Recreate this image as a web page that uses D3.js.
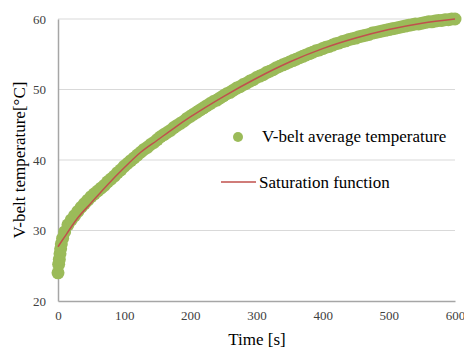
<!DOCTYPE html>
<html>
<head>
    <meta charset="utf-8" />
    <title>V-belt temperature</title>
    <style>
        body { margin: 0; background: #fff; }
        svg text { font-family: "Liberation Serif", "Times New Roman", Times, serif !important; }
    </style>
</head>
<body>
    <svg></svg>
    <script src="https://d3js.org/d3.v7.min.js"></script>
    <script>
        // Measured V-belt average temperature (time in s, temperature in degC)
        var measTime = [0, 1, 2, 3, 4, 5, 7, 10, 15, 20, 25, 30, 35, 40, 45, 50, 55, 60, 65, 70, 75, 80, 85, 90, 95,
            100, 105, 110, 115, 120, 125, 130, 135, 140, 145, 150, 155, 160, 165, 170, 175, 180, 185, 190, 195,
            200, 205, 210, 215, 220, 225, 230, 235, 240, 245, 250, 255, 260, 265, 270, 275, 280, 285, 290, 295,
            300, 305, 310, 315, 320, 325, 330, 335, 340, 345, 350, 355, 360, 365, 370, 375, 380, 385, 390, 395,
            400, 405, 410, 415, 420, 425, 430, 435, 440, 445, 450, 455, 460, 465, 470, 475, 480, 485, 490, 495,
            500, 505, 510, 515, 520, 525, 530, 535, 540, 545, 550, 555, 560, 565, 570, 575, 580, 585, 590, 595, 600];
        var measTemp = [24.0, 25.2, 25.9, 26.7, 27.4, 28.1, 28.9, 29.8, 30.8, 31.5, 32.1, 32.7, 33.3, 33.8, 34.3, 34.8, 35.2, 35.6, 36.0, 36.4, 36.9, 37.3, 37.7, 38.2, 38.6,
            39.1, 39.5, 39.9, 40.3, 40.7, 41.1, 41.5, 41.8, 42.2, 42.5, 42.9, 43.3, 43.6, 43.9, 44.2, 44.6, 44.9, 45.2, 45.5, 45.9,
            46.2, 46.5, 46.8, 47.1, 47.4, 47.7, 48.0, 48.3, 48.5, 48.8, 49.1, 49.4, 49.6, 49.9, 50.2, 50.4, 50.7, 50.9, 51.2, 51.4,
            51.7, 51.9, 52.1, 52.4, 52.6, 52.8, 53.1, 53.3, 53.5, 53.7, 53.9, 54.1, 54.3, 54.5, 54.7, 54.9, 55.1, 55.3, 55.5, 55.6,
            55.8, 56.0, 56.1, 56.3, 56.5, 56.6, 56.8, 56.9, 57.1, 57.2, 57.3, 57.5, 57.6, 57.7, 57.8, 58.0, 58.1, 58.2, 58.3, 58.4,
            58.5, 58.6, 58.7, 58.8, 58.9, 59.0, 59.1, 59.2, 59.3, 59.3, 59.4, 59.5, 59.6, 59.6, 59.7, 59.8, 59.8, 59.9, 59.9, 60.0, 60.0];

        // Saturation function (fitted curve)
        var fitTime = [0, 10, 20, 30, 50, 75, 100, 125, 150, 175, 200, 250, 300, 350, 400, 450, 500, 550, 600];
        var fitTemp = [27.7, 29.1, 30.5, 31.8, 33.9, 36.5, 38.9, 41.1, 42.8, 44.5, 46.1, 49.0, 51.6, 53.9, 55.8, 57.3, 58.5, 59.4, 60.0];

        var xTicks = [0, 100, 200, 300, 400, 500, 600];
        var yTicks = [20, 30, 40, 50, 60];
        var seriesNames = ["V-belt average temperature", "Saturation function"];

        var width = 464, height = 349;
        var svg = d3.select("svg").attr("width", width).attr("height", height);

        var x = d3.scaleLinear().domain([0, 600]).range([58, 455]);
        var y = d3.scaleLinear().domain([20, 60]).range([301, 19]);

        var green = "#9bbb59", red = "#c0504d";

        // gridlines
        svg.append("g")
            .selectAll("line")
            .data(yTicks.slice(1))
            .join("line")
            .attr("x1", x(0)).attr("x2", x(600))
            .attr("y1", d => y(d)).attr("y2", d => y(d))
            .attr("stroke", "#d9d9d9").attr("stroke-width", 1);

        // axes
        var xAxis = svg.append("g")
            .attr("transform", "translate(0," + y(20) + ")")
            .call(d3.axisBottom(x).tickValues(xTicks).tickSize(0).tickPadding(10));
        var yAxis = svg.append("g")
            .attr("transform", "translate(" + x(0) + ",0)")
            .call(d3.axisLeft(y).tickValues(yTicks).tickSize(0).tickPadding(12));
        [xAxis, yAxis].forEach(function (g) {
            g.attr("font-family", null);
            g.select(".domain").attr("stroke", "#a6a6a6").attr("stroke-width", 1.5);
            g.selectAll("text").style("font-size", "13px").attr("fill", "#404040");
        });

        // scatter
        svg.append("g")
            .selectAll("circle")
            .data(measTime.map((t, i) => [t, measTemp[i]]))
            .join("circle")
            .attr("cx", d => x(d[0]))
            .attr("cy", d => y(d[1]))
            .attr("r", 6.5)
            .attr("fill", green);

        // saturation curve
        var line = d3.line()
            .x(d => x(d[0]))
            .y(d => y(d[1]))
            .curve(d3.curveMonotoneX);
        svg.append("path")
            .datum(fitTime.map((t, i) => [t, fitTemp[i]]))
            .attr("d", line)
            .attr("fill", "none")
            .attr("stroke", red)
            .attr("stroke-width", 1.5);

        // legend
        var legend = svg.append("g");
        legend.append("circle").attr("cx", 238).attr("cy", 137).attr("r", 5).attr("fill", green);
        legend.append("text").attr("x", 262).attr("y", 142).style("font-size", "17px").attr("fill", "#000").text(seriesNames[0]);
        legend.append("line").attr("x1", 221).attr("x2", 256).attr("y1", 182).attr("y2", 182)
            .attr("stroke", red).attr("stroke-width", 1.5);
        legend.append("text").attr("x", 259).attr("y", 188).style("font-size", "17px").attr("fill", "#000").text(seriesNames[1]);

        // axis titles
        svg.append("text")
            .attr("x", 257).attr("y", 345)
            .attr("text-anchor", "middle")
            .style("font-size", "17px").attr("fill", "#000")
            .text("Time [s]");
        svg.append("text")
            .attr("transform", "translate(25,160) rotate(-90)")
            .attr("text-anchor", "middle")
            .style("font-size", "17px").attr("fill", "#000")
            .text("V-belt temperature[°C]");
    </script>
</body>
</html>
